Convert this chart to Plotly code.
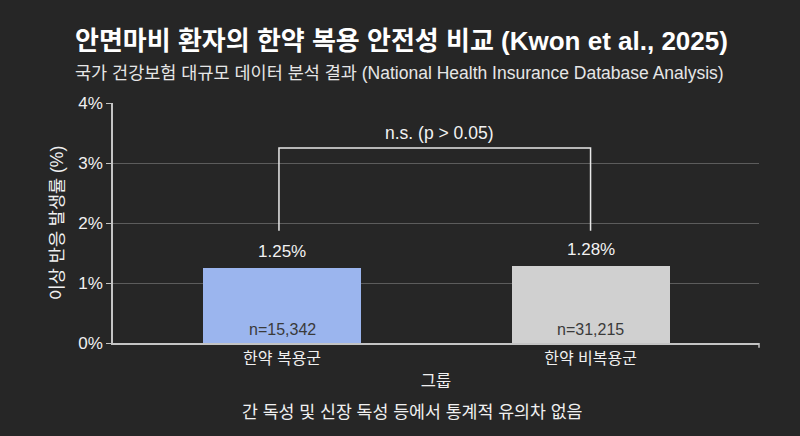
import plotly.graph_objects as go

groups = ["한약 복용군", "한약 비복용군"]
rates = [1.25, 1.28]
sample_sizes = ["n=15,342", "n=31,215"]
bar_colors = ["#9bb5ee", "#d0d0d0"]
y_ticks = [0, 1, 2, 3, 4]
y_tick_labels = ["0%", "1%", "2%", "3%", "4%"]
bracket_top = 3.25
bracket_bottom = [1.87, 1.87]
sig_label = "n.s. (p > 0.05)"

title = "안면마비 환자의 한약 복용 안전성 비교 (Kwon et al., 2025)"
subtitle = "국가 건강보험 대규모 데이터 분석 결과 (National Health Insurance Database Analysis)"
footnote = "간 독성 및 신장 독성 등에서 통계적 유의차 없음"

FONT = "Liberation Sans, Noto Sans CJK KR, sans-serif"
xpos = list(range(len(groups)))

fig = go.Figure()
fig.add_trace(go.Bar(
    x=xpos, y=rates, width=0.512,
    marker=dict(color=bar_colors, line=dict(width=0)),
    hoverinfo="skip", showlegend=False,
))

# value labels above bars
for xi, r in zip(xpos, rates):
    fig.add_annotation(x=xi, y=r, text=f"{r:.2f}%", showarrow=False,
                       yshift=17, font=dict(size=17, color="#f2f2f2", family=FONT))
# sample-size labels inside bars
for xi, n in zip(xpos, sample_sizes):
    fig.add_annotation(x=xi, y=0, text=n, showarrow=False, yshift=14,
                       font=dict(size=16, color="#3a3a3a", family=FONT))

# significance bracket
fig.add_trace(go.Scatter(
    x=[xpos[0] - 0.01, xpos[0] - 0.01, xpos[1], xpos[1]],
    y=[bracket_bottom[0], bracket_top, bracket_top, bracket_bottom[1]],
    mode="lines", line=dict(color="#e8e8e8", width=1.5),
    hoverinfo="skip", showlegend=False,
))
fig.add_annotation(x=(xpos[0] + xpos[1]) / 2 + 0.01, y=bracket_top, text=sig_label,
                   showarrow=False, yshift=15,
                   font=dict(size=17.5, color="#f2f2f2", family=FONT))

# titles
fig.add_annotation(xref="paper", yref="paper", x=-0.0, y=1.0, xanchor="left", yanchor="bottom",
                   text=f"<b>{title}</b>", showarrow=False, xshift=-40, yshift=45,
                   font=dict(size=26, color="#ffffff", family=FONT))
fig.add_annotation(xref="paper", yref="paper", x=-0.0, y=1.0, xanchor="left", yanchor="bottom",
                   text=subtitle, showarrow=False, xshift=-40, yshift=18,
                   font=dict(size=17.5, color="#e6e6e6", family=FONT))
fig.add_annotation(xref="paper", yref="paper", x=(412 - 113) / 646, y=0, xanchor="center",
                   yanchor="middle", text=footnote, showarrow=False, yshift=-69,
                   font=dict(size=17.3, color="#f0f0f0", family=FONT))

fig.update_layout(
    width=800, height=436,
    margin=dict(l=113, r=41, t=103, b=93),
    paper_bgcolor="#262626", plot_bgcolor="#262626",
    font=dict(family=FONT, color="#e8e8e8", size=16),
    bargap=0,
    xaxis=dict(
        range=[-0.548, 1.546], tickmode="array", tickvals=xpos, ticktext=groups,
        showgrid=False, zeroline=False, showline=True, linecolor="#c4c4c4", linewidth=1.5,
        ticks="", tickfont=dict(size=16, color="#f0f0f0"),
        title=dict(text="그룹", font=dict(size=16.5, color="#f0f0f0"), standoff=9),
        fixedrange=True,
    ),
    yaxis=dict(
        range=[0, 4], tickmode="array", tickvals=y_ticks, ticktext=y_tick_labels,
        showgrid=True, gridcolor="#5c5c5c", gridwidth=1, zeroline=False,
        showline=True, linecolor="#c4c4c4", linewidth=1.5,
        ticks="outside", ticklen=5, tickcolor="#c4c4c4",
        tickfont=dict(size=17, color="#f0f0f0"),
        title=dict(text="이상 반응 발생률 (%)", font=dict(size=17.5, color="#f0f0f0"), standoff=10),
        fixedrange=True,
    ),
)

# right-end tick on x axis line
fig.add_shape(type="line", xref="paper", yref="paper", x0=1, x1=1, y0=0, y1=-0.02,
              line=dict(color="#c4c4c4", width=1.5))

fig.write_html(
    "out.html",
    config={"displayModeBar": False},
    post_script="document.body.style.margin='0';document.body.style.background='#262626';",
)
